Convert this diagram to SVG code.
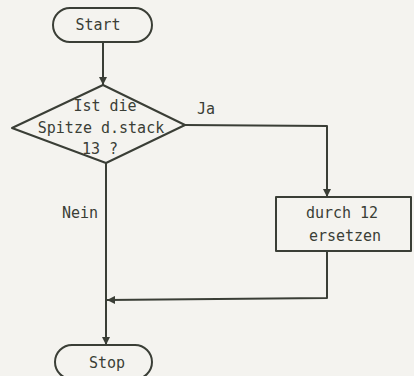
<svg xmlns="http://www.w3.org/2000/svg" width="414" height="376" viewBox="0 0 414 376">
<defs>
<style>
.s{fill:none;stroke:#3a3e36;stroke-width:2;stroke-linejoin:round}
.t{font-family:"DejaVu Sans Mono","Liberation Mono",monospace;font-size:15px;fill:#3a3e36;text-anchor:middle}
</style>
<marker id="a" viewBox="0 0 10 10" refX="10" refY="5" markerWidth="4" markerHeight="4" orient="auto" markerUnits="strokeWidth">
<path d="M0,0 L10,5 L0,10 z" fill="#3a3e36"/>
</marker>
</defs>
<rect width="414" height="376" fill="#f4f3ef"/>
<g id="connectors">
<path class="s" d="M103,42 V85" marker-end="url(#a)"/>
<path class="s" d="M185,125 L327,126 V197" marker-end="url(#a)"/>
<path class="s" d="M106,163 V345" marker-end="url(#a)"/>
<path class="s" d="M327,251 V298 L107,300" marker-end="url(#a)"/>
<text class="t" x="206" y="114">Ja</text>
<text class="t" x="80" y="218">Nein</text>
</g>
<g id="start">
<rect class="s" x="53" y="8" width="99" height="34" rx="17"/>
<text class="t" x="98" y="30">Start</text>
</g>
<g id="decision">
<path class="s" d="M103,85 L185,125 L106,163 L12,128 Z"/>
<text class="t" x="105" y="111">Ist die</text>
<text class="t" x="101" y="133">Spitze d.stack</text>
<text class="t" x="100" y="154">13 ?</text>
</g>
<g id="replace">
<rect class="s" x="276" y="197" width="135" height="54"/>
<text class="t" x="342" y="218">durch 12</text>
<text class="t" x="345" y="241">ersetzen</text>
</g>
<g id="stop">
<rect class="s" x="55" y="345" width="97" height="34" rx="17"/>
<text class="t" x="107" y="368">Stop</text>
</g>
</svg>
